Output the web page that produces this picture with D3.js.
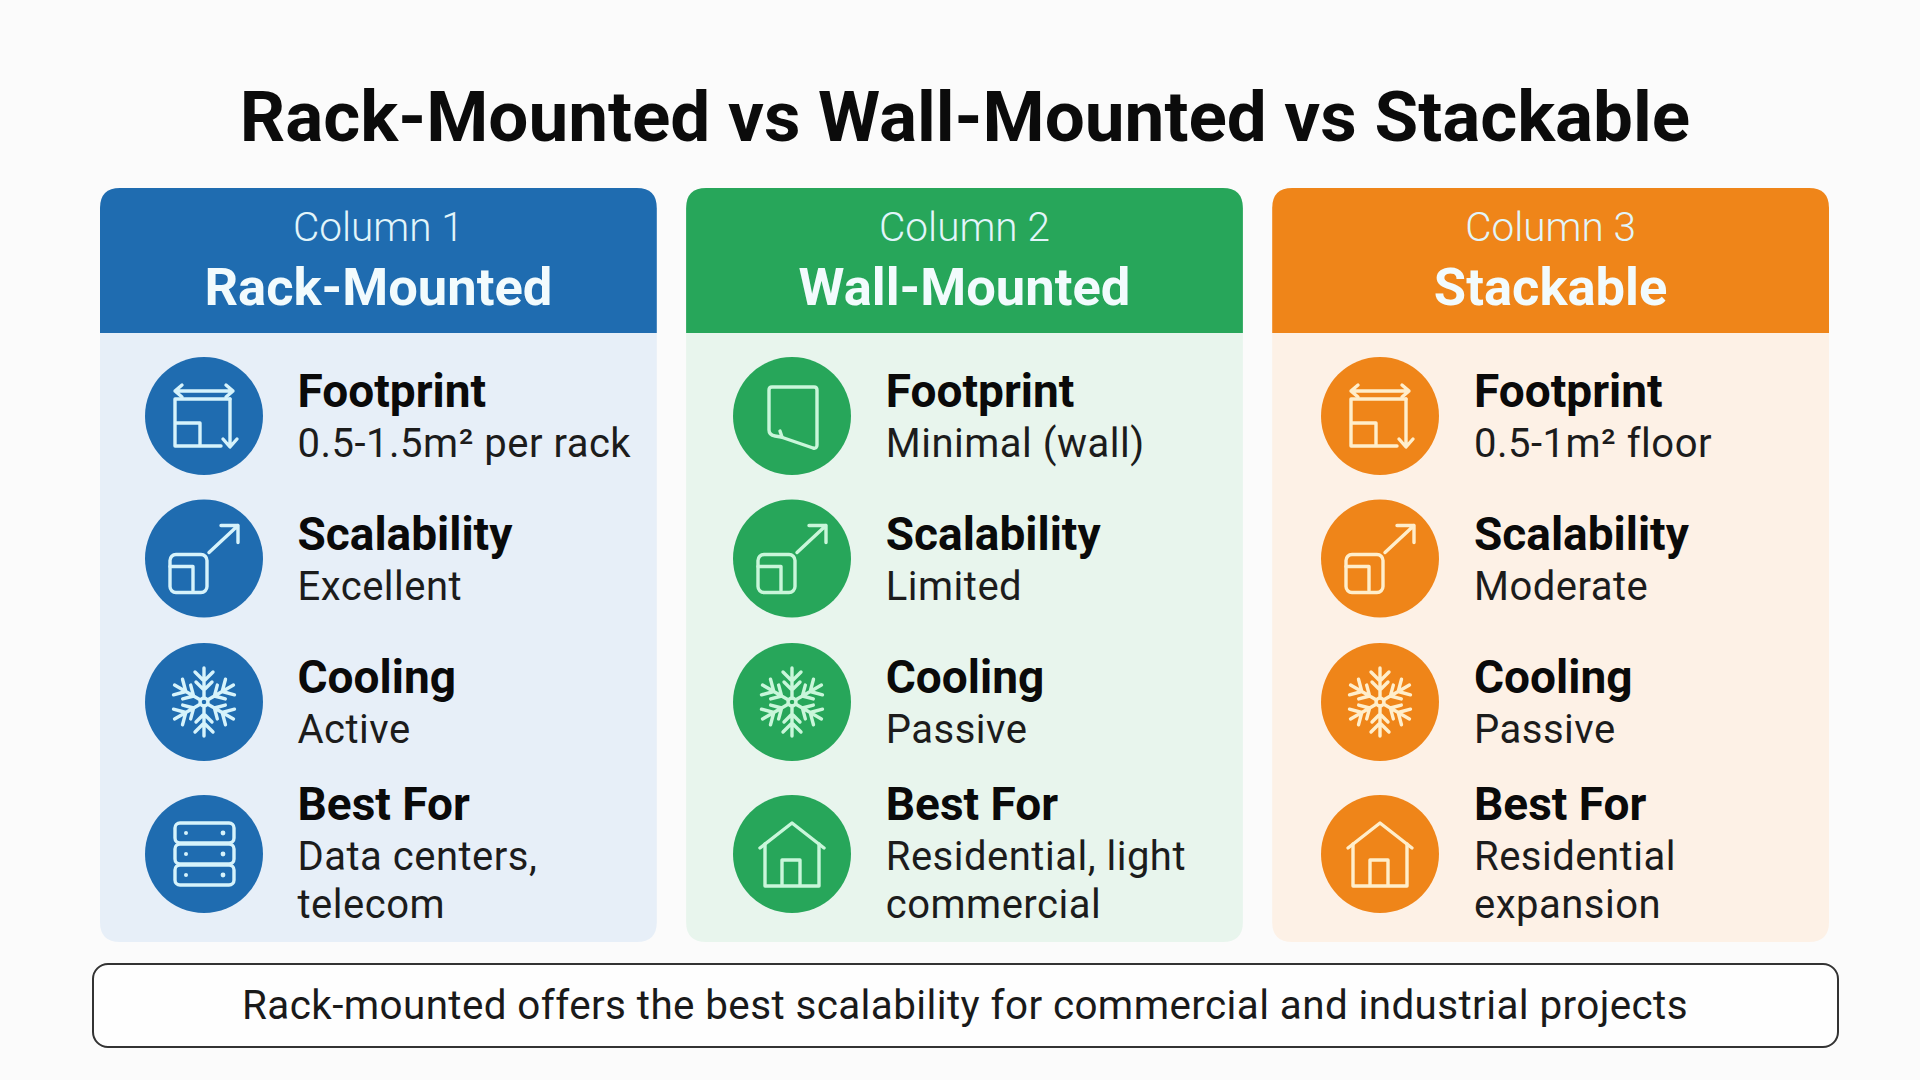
<!DOCTYPE html>
<html><head><meta charset="utf-8">
<script src="https://cdn.jsdelivr.net/npm/d3@7/dist/d3.min.js"></script>
<style>html,body{margin:0;padding:0;background:#fbfbfb;overflow:hidden}svg{display:block}text{font-family:Roboto,sans-serif}</style>
</head><body><svg id="c" width="1920" height="1080"></svg>
<script>
const titleText = "Rack-Mounted vs Wall-Mounted vs Stackable";
const columnLabels = ["Column 1","Column 2","Column 3"];
const columnNames = ["Rack-Mounted","Wall-Mounted","Stackable"];
const rowNames = ["Footprint","Scalability","Cooling","Best For"];
const rackValues = [["0.5-1.5m² per rack"],["Excellent"],["Active"],["Data centers,","telecom"]];
const wallValues = [["Minimal (wall)"],["Limited"],["Passive"],["Residential, light","commercial"]];
const stackValues = [["0.5-1m² floor"],["Moderate"],["Passive"],["Residential","expansion"]];
const footerText = "Rack-mounted offers the best scalability for commercial and industrial projects";
const headerColors = ["#1f6cb0","#27a65a","#ef8519"];
const panelColors = ["#e7eff8","#e8f5ed","#fdf1e6"];
const iconStroke = ["#d6f3fb","#c9f6da","#ffeecb"];
const iconSets = [["area","grow","snow","rack"],["wall","grow","snow","house"],["area","grow","snow","house"]];
const columnValues = [rackValues,wallValues,stackValues];

const svg = d3.select("#c");
const x = d3.scaleBand().domain(columnLabels).range([100,1829]).paddingInner(0.05).paddingOuter(0);
const circleX = d3.scalePoint().domain(columnLabels).range([204,1380]);
const textX = d3.scalePoint().domain(columnLabels).range([297.5,1474]);
const y = d3.scaleOrdinal().domain(rowNames).range([416,558.5,702,854]);
const H0=188,H1=333,B1=942,R=20;

function roundedTop(x0,w,y0,y1,r){return `M${x0},${y1}V${y0+r}Q${x0},${y0} ${x0+r},${y0}H${x0+w-r}Q${x0+w},${y0} ${x0+w},${y0+r}V${y1}Z`;}
function roundedBottom(x0,w,y0,y1,r){return `M${x0},${y0}H${x0+w}V${y1-r}Q${x0+w},${y1} ${x0+w-r},${y1}H${x0+r}Q${x0},${y1} ${x0},${y1-r}Z`;}

const icons = {
  area:g=>{
    p(g,"M-29,-25H29M-22,-31L-29,-25L-22,-19M22,-31L29,-25L22,-19");
    p(g,"M-29,-17H26M-29,-17V30H17M-29,7H-4V30");
    p(g,"M26,-17V30M19,23L26,31L33,23");
  },
  grow:g=>{
    g.append("rect").attr("x",-34).attr("y",-4).attr("width",37).attr("height",38).attr("rx",6).attr("fill","none");
    p(g,"M-34,8H-11V32");
    p(g,"M5,-6L34,-33M17,-33H34V-16");
  },
  snow:g=>{
    d3.range(6).forEach(i=>{
      const a=g.append("g").attr("transform",`rotate(${i*60})`);
      p(a,"M0,-4V-34M-9,-30L0,-21L9,-30M-8,-20L0,-12L8,-20");
    });
    g.append("circle").attr("r",4).attr("fill","none");
  },
  rack:g=>{
    [-31,-10,11].forEach(t=>{
      g.append("rect").attr("x",-29).attr("y",t).attr("width",59).attr("height",20).attr("rx",5).attr("fill","none");
      g.append("circle").attr("cx",-18).attr("cy",t+10).attr("r",2).attr("class","dot");
      g.append("circle").attr("cx",19).attr("cy",t+10).attr("r",2.4).attr("class","dot");
    });
  },
  wall:g=>{
    p(g,"M-23,-26Q-23,-29 -20,-29H22Q25,-29 25,-26V29Q25,33 21,32L-11,21L-17,20Q-23,19 -23,14Z");
    p(g,"M-12,15L-10,21");
  },
  house:g=>{
    p(g,"M-32,-6L0,-31L32,-6");
    p(g,"M-27,-10V32H27V-10M-10,32V6H8V32");
  }
};
function p(g,d){return g.append("path").attr("d",d).attr("fill","none");}

svg.append("text").attr("x",965).attr("y",141).attr("text-anchor","middle")
  .attr("font-size",71).attr("font-weight",700).attr("fill","#0b0b0b").attr("class","title").text(titleText);

columnLabels.forEach((lab,ci)=>{
  const X=x(lab),W=x.bandwidth(),cx=X+W/2;
  const g=svg.append("g");
  g.append("path").attr("d",roundedBottom(X,W,H1,B1,R)).attr("fill",panelColors[ci]);
  g.append("path").attr("d",roundedTop(X,W,H0,H1,R)).attr("fill",headerColors[ci]);
  g.append("text").attr("x",cx).attr("y",241).attr("text-anchor","middle").attr("font-size",40.5).attr("font-weight",300).attr("fill","#e2f5fa").text(lab);
  g.append("text").attr("x",cx).attr("y",305).attr("text-anchor","middle").attr("font-size",52.5).attr("font-weight",700).attr("fill","#f2fbfd").text(columnNames[ci]);
  const ccx=circleX(lab), tx=textX(lab);
  rowNames.forEach((row,ri)=>{
    const cy=y(row), vals=columnValues[ci][ri], two=vals.length>1;
    g.append("circle").attr("cx",ccx).attr("cy",cy).attr("r",59).attr("fill",headerColors[ci]);
    const ic=g.append("g").attr("transform",`translate(${ccx},${cy})`).attr("stroke",iconStroke[ci]).attr("stroke-width",3.4).attr("stroke-linecap","round").attr("stroke-linejoin","round");
    icons[iconSets[ci][ri]](ic);
    ic.selectAll(".dot").attr("fill",iconStroke[ci]).attr("stroke","none");
    const hy=two?cy-34:cy-9;
    g.append("text").attr("x",tx).attr("y",hy).attr("font-size",46).attr("font-weight",700).attr("fill","#0a0a0a").text(row);
    vals.forEach((v,k)=>{
      g.append("text").attr("x",tx).attr("y",hy+50+k*48).attr("font-size",40).attr("letter-spacing",0.5).attr("fill","#1c1c1c").text(v);
    });
  });
});

svg.append("rect").attr("x",93).attr("y",964).attr("width",1745).attr("height",83).attr("rx",15).attr("fill","#fefefe").attr("stroke","#333").attr("stroke-width",2);
svg.append("text").attr("x",965).attr("y",1019).attr("text-anchor","middle").attr("font-size",40.4).attr("letter-spacing",0.4).attr("fill","#1a1a1a").text(footerText);
</script></body></html>
